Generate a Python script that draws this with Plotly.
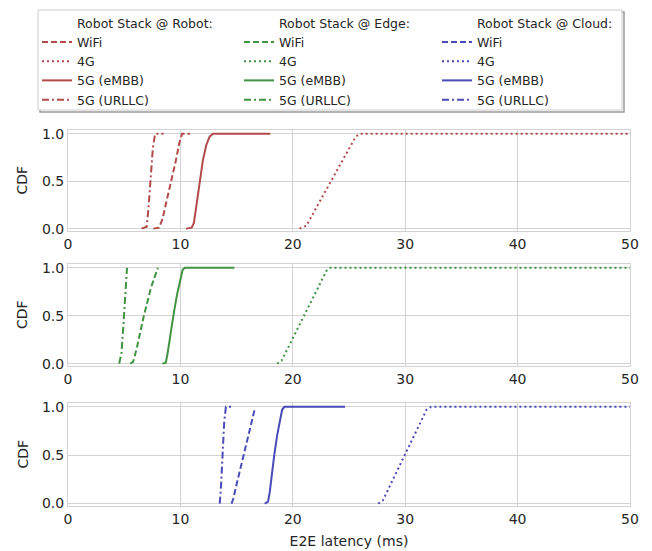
import plotly.graph_objects as go
from plotly.subplots import make_subplots

# ---------------- data ----------------
network_labels = ["WiFi", "4G", "5G (eMBB)", "5G (URLLC)"]
stack_headers = ["Robot Stack @ Robot:", "Robot Stack @ Edge:", "Robot Stack @ Cloud:"]
y_title = "CDF"
x_title = "E2E latency (ms)"

# Robot stack @ Robot (red)
robot_wifi_x = [7.6, 8.1, 8.4, 8.8, 9.2, 9.6, 9.9, 10.15, 10.85]
robot_wifi_y = [0, 0.01, 0.1, 0.3, 0.5, 0.72, 0.9, 1.0, 1.0]
robot_4g_x = [20.6, 21.2, 25.6, 26.0, 50]
robot_4g_y = [0, 0.03, 0.97, 1.0, 1.0]
robot_embb_x = [10.5, 11.0, 11.2, 11.4, 11.7, 12.0, 12.3, 12.6, 12.9, 18.0]
robot_embb_y = [0, 0.01, 0.06, 0.22, 0.5, 0.72, 0.88, 0.97, 1.0, 1.0]
robot_urllc_x = [6.55, 7.0, 7.15, 7.35, 7.55, 7.75, 8.5]
robot_urllc_y = [0, 0.02, 0.2, 0.5, 0.85, 1.0, 1.0]

# Robot stack @ Edge (green)
edge_wifi_x = [5.55, 5.8, 6.1, 6.75, 7.4, 7.8, 8.0]
edge_wifi_y = [0, 0.02, 0.15, 0.5, 0.8, 0.95, 1.0]
edge_4g_x = [18.6, 19.0, 23.0, 23.3, 50]
edge_4g_y = [0, 0.03, 0.97, 1.0, 1.0]
edge_embb_x = [8.4, 8.7, 8.85, 9.1, 9.4, 9.7, 10.0, 10.2, 10.4, 14.8]
edge_embb_y = [0, 0.01, 0.1, 0.3, 0.52, 0.72, 0.9, 0.98, 1.0, 1.0]
edge_urllc_x = [4.55, 4.75, 4.9, 5.0, 5.1, 5.2, 5.25]
edge_urllc_y = [0, 0.1, 0.35, 0.55, 0.8, 0.97, 1.0]

# Robot stack @ Cloud (blue)
cloud_wifi_x = [14.55, 14.7, 15.0, 15.6, 16.2, 16.6]
cloud_wifi_y = [0, 0.05, 0.2, 0.5, 0.8, 0.97]
cloud_4g_x = [27.6, 28.0, 31.9, 32.3, 50]
cloud_4g_y = [0, 0.03, 0.97, 1.0, 1.0]
cloud_embb_x = [17.5, 17.8, 17.95, 18.1, 18.35, 18.6, 18.85, 19.05, 19.25, 24.65]
cloud_embb_y = [0, 0.02, 0.12, 0.27, 0.5, 0.7, 0.87, 0.97, 1.0, 1.0]
cloud_urllc_x = [13.5, 13.6, 13.75, 13.9, 14.05, 14.7]
cloud_urllc_y = [0, 0.15, 0.5, 0.85, 1.0, 1.0]

x_ticks = [0, 10, 20, 30, 40, 50]
y_ticks = [0.0, 0.5, 1.0]
y_tick_labels = ["0.0", "0.5", "1.0"]

# ---------------- styling ----------------
colors = ["#b34a4a", "#409440", "#4a4ab8"]
dashes = ["6px,3px", "2px,3px", "solid", "7px,3px,2px,3px"]
legends = ["legend", "legend2", "legend3"]

series = [
    [(robot_wifi_x, robot_wifi_y), (robot_4g_x, robot_4g_y),
     (robot_embb_x, robot_embb_y), (robot_urllc_x, robot_urllc_y)],
    [(edge_wifi_x, edge_wifi_y), (edge_4g_x, edge_4g_y),
     (edge_embb_x, edge_embb_y), (edge_urllc_x, edge_urllc_y)],
    [(cloud_wifi_x, cloud_wifi_y), (cloud_4g_x, cloud_4g_y),
     (cloud_embb_x, cloud_embb_y), (cloud_urllc_x, cloud_urllc_y)],
]

# The page body has an 8px margin, so the figure is 8px smaller in each direction
OFF = 8
W, H = 652 - OFF, 551 - OFF
L, R = 68 - OFF, 652 - 630
PW = W - L - R

def fy(p):  # screen y pixel -> paper fraction
    return 1 - (p - OFF) / H

def fx(p):  # screen x pixel -> paper fraction (plot area based)
    return (p - OFF - L) / PW

fig = make_subplots(rows=3, cols=1)

for r in range(3):
    # header entry (no visible line)
    fig.add_trace(go.Scatter(x=[None], y=[None], mode="lines", name=stack_headers[r],
                             line=dict(color="rgba(0,0,0,0)", width=2),
                             legend=legends[r], hoverinfo="skip"), row=1, col=1)
    for k, (xs, ys) in enumerate(series[r]):
        fig.add_trace(go.Scatter(x=xs, y=ys, mode="lines", name=network_labels[k],
                                 line=dict(color=colors[r], width=2, dash=dashes[k]),
                                 legend=legends[r]), row=r + 1, col=1)

font_color = "#262626"
grid_color = "#d3d3d3"

# domains in screen pixels (top, bottom)
plot_px = [(130, 231), (264, 366), (403, 506)]
for r in range(3):
    top, bot = plot_px[r]
    yax = "yaxis" if r == 0 else f"yaxis{r+1}"
    xax = "xaxis" if r == 0 else f"xaxis{r+1}"
    fig.layout[yax].update(domain=[fy(bot), fy(top)], range=[-0.025, 1.04],
                           tickvals=y_ticks, ticktext=y_tick_labels,
                           showgrid=True, gridcolor=grid_color, gridwidth=1,
                           zeroline=False, showline=True, mirror=True,
                           linecolor=grid_color, linewidth=1, ticks="",
                           tickfont=dict(size=14, color=font_color))
    fig.layout[xax].update(range=[0, 50], tickvals=x_ticks,
                           showgrid=True, gridcolor=grid_color, gridwidth=1,
                           zeroline=False, showline=True, mirror=True,
                           linecolor=grid_color, linewidth=1, ticks="",
                           tickfont=dict(size=14, color=font_color))
    fig.add_annotation(text=y_title, textangle=-90, showarrow=False,
                       xref="paper", yref="paper", x=fx(22), y=(fy(top) + fy(bot)) / 2,
                       xanchor="center", yanchor="middle",
                       font=dict(size=14, color=font_color))

fig.layout["xaxis3"].title = dict(text=x_title, standoff=10,
                                  font=dict(size=14, color=font_color))

legend_common = dict(bgcolor="rgba(0,0,0,0)", borderwidth=0, traceorder="normal",
                     font=dict(family="DejaVu Sans", size=12.5, color=font_color),
                     xanchor="left", yanchor="top", tracegroupgap=0,
                     itemwidth=30, xref="container", yref="container")
legend_x_px = [29, 231, 429]
lx = [p / W for p in legend_x_px]
ly = 1 + 1 / H
fig.update_layout(
    legend=dict(x=lx[0], y=ly, **legend_common),
    legend2=dict(x=lx[1], y=ly, **legend_common),
    legend3=dict(x=lx[2], y=ly, **legend_common),
)

# legend frame (like matplotlib's legend box with shadow)
fig.add_shape(type="rect", xref="paper", yref="paper",
              x0=fx(40), x1=fx(624), y0=fy(112), y1=fy(12),
              line=dict(color="#9a9a9a", width=1.5), fillcolor="rgba(0,0,0,0)", layer="above")
fig.add_shape(type="rect", xref="paper", yref="paper",
              x0=fx(38), x1=fx(622), y0=fy(110), y1=fy(10),
              line=dict(color="#cccccc", width=1), fillcolor="white", layer="above")

fig.update_layout(
    width=W, height=H,
    margin=dict(l=L, r=R, t=0, b=0, autoexpand=False),
    plot_bgcolor="white", paper_bgcolor="white",
    font=dict(family="DejaVu Sans", size=14, color=font_color),
    showlegend=True,
)

fig.write_html("out.html")
